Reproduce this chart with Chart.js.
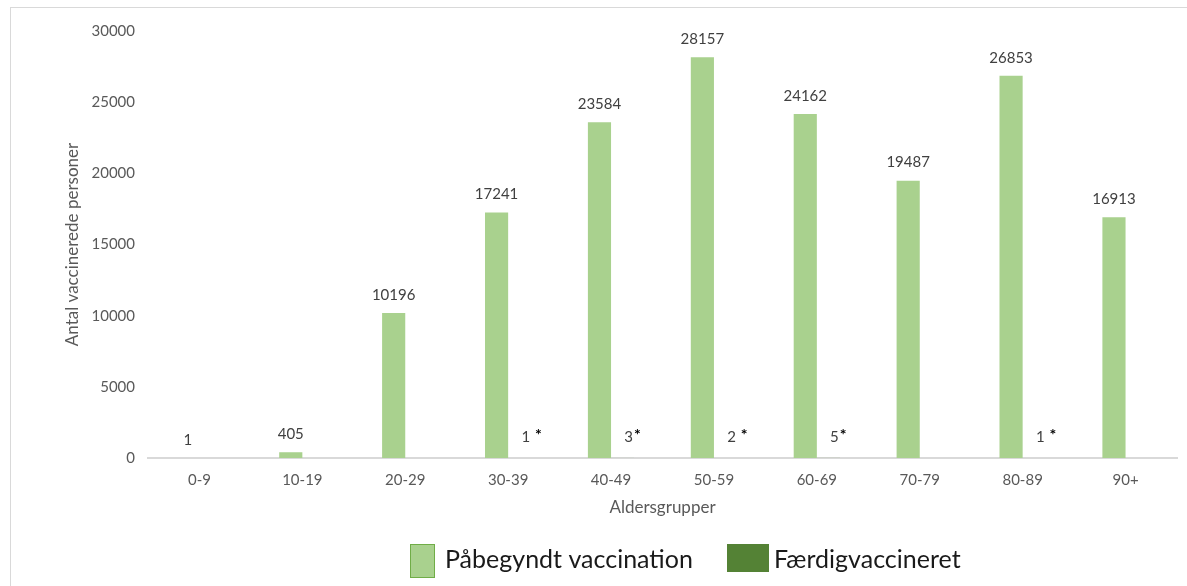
<!DOCTYPE html>
<html>
<head>
<meta charset="utf-8">
<script src="https://cdn.jsdelivr.net/npm/chart.js@4"></script>
<style>
  html, body { margin: 0; padding: 0; background: #fff; overflow: hidden; }
  #frame { position: absolute; left: 10px; top: 7px; width: 1200px; height: 600px; border: 1px solid #d9d9d9; }
  #wrap { position: absolute; left: 0; top: 0; width: 1187px; height: 586px; }
</style>
</head>
<body>
<div id="frame"></div>
<div id="wrap"><canvas id="myChart"></canvas></div>
<script>
const ageGroups = ['0-9', '10-19', '20-29', '30-39', '40-49', '50-59', '60-69', '70-79', '80-89', '90+'];
const startedValues = [1, 405, 10196, 17241, 23584, 28157, 24162, 19487, 26853, 16913];
const completedValues = [0, 0, 0, 1, 3, 2, 5, 0, 1, 0];
const completedMarks = ['', '', '', ' *', '*', ' *', '*', '', ' *', ''];
const seriesNames = ['Påbegyndt vaccination', 'Færdigvaccineret'];
const seriesColors = ['#a9d18e', '#548235'];
const yTicks = [0, 5000, 10000, 15000, 20000, 25000, 30000];

const FONT = 'Lato, "Noto Sans", sans-serif';

// value labels above bars
const labelPlugin = {
    id: 'barLabels',
    afterDatasetsDraw(chart) {
        const ctx = chart.ctx;
        ctx.save();
        ctx.textBaseline = 'middle';
        const meta0 = chart.getDatasetMeta(0);
        meta0.data.forEach((bar, i) => {
            ctx.font = '15px ' + FONT;
            ctx.fillStyle = '#404040';
            ctx.textAlign = 'center';
            ctx.fillText(String(startedValues[i]), bar.x, bar.y - 18);
        });
        const meta1 = chart.getDatasetMeta(1);
        meta1.data.forEach((bar, i) => {
            if (!completedValues[i]) return;
            const txt = String(completedValues[i]);
            ctx.font = '15px ' + FONT;
            ctx.fillStyle = '#404040';
            ctx.textAlign = 'center';
            const x = bar.x + 6;
            const y = bar.y - 21;
            ctx.fillText(txt, x, y);
            const w = ctx.measureText(txt).width;
            ctx.font = 'bold 16px ' + FONT;
            ctx.fillStyle = '#000';
            ctx.textAlign = 'left';
            ctx.fillText(completedMarks[i], x + w / 2 + 1, y - 2);
        });
        ctx.restore();
    }
};

// legend drawn by hand, the two boxes are not the same size in the original
const legendPlugin = {
    id: 'customLegend',
    afterDraw(chart) {
        const ctx = chart.ctx;
        ctx.save();
        ctx.font = '25px ' + FONT;
        ctx.textBaseline = 'middle';
        ctx.textAlign = 'left';
        // first item
        ctx.fillStyle = seriesColors[0];
        ctx.fillRect(410, 544, 25, 34);
        ctx.strokeStyle = '#70ad47';
        ctx.lineWidth = 1;
        ctx.strokeRect(410.5, 544.5, 24, 33);
        ctx.fillStyle = '#1a1a1a';
        ctx.fillText(seriesNames[0], 445, 560);
        // second item
        ctx.fillStyle = seriesColors[1];
        ctx.fillRect(727, 544, 42, 28);
        ctx.fillStyle = '#1a1a1a';
        ctx.fillText(seriesNames[1], 774, 560);
        ctx.restore();
    }
};

const ctx = document.getElementById('myChart');
new Chart(ctx, {
    type: 'bar',
    data: {
        labels: ageGroups,
        datasets: [{
            label: seriesNames[0],
            data: startedValues,
            backgroundColor: seriesColors[0],
            borderWidth: 0
        }, {
            label: seriesNames[1],
            data: completedValues,
            backgroundColor: seriesColors[1],
            borderWidth: 0
        }]
    },
    options: {
        responsive: true,
        maintainAspectRatio: false,
        animation: false,
        categoryPercentage: 0.45,
        barPercentage: 1.0,
        layout: { padding: { left: 62, right: 10, top: 31, bottom: 68 } },
        plugins: {
            legend: { display: false },
            tooltip: { enabled: false }
        },
        scales: {
            x: {
                grid: { display: false, drawTicks: false },
                border: { display: true, color: '#d9d9d9', width: 2 },
                ticks: { color: '#595959', font: { family: FONT, size: 15 }, padding: 13, maxRotation: 0 },
                title: { display: true, text: 'Aldersgrupper', color: '#595959', font: { family: FONT, size: 17 }, padding: 0 },
                afterFit(scale) { scale.height = 60; }
            },
            y: {
                min: 0,
                max: 30000,
                grid: { display: false, drawTicks: false },
                border: { display: false },
                afterBuildTicks(scale) { scale.ticks = yTicks.map(v => ({ value: v })); },
                ticks: {
                    color: '#595959',
                    font: { family: FONT, size: 15 },
                    padding: 13,
                    callback: v => String(v)
                },
                title: { display: true, text: 'Antal vaccinerede personer', color: '#595959', font: { family: FONT, size: 17 }, padding: 0 },
                afterFit(scale) { scale.width = 86; }
            }
        }
    },
    plugins: [labelPlugin, legendPlugin]
});
</script>
</body>
</html>
